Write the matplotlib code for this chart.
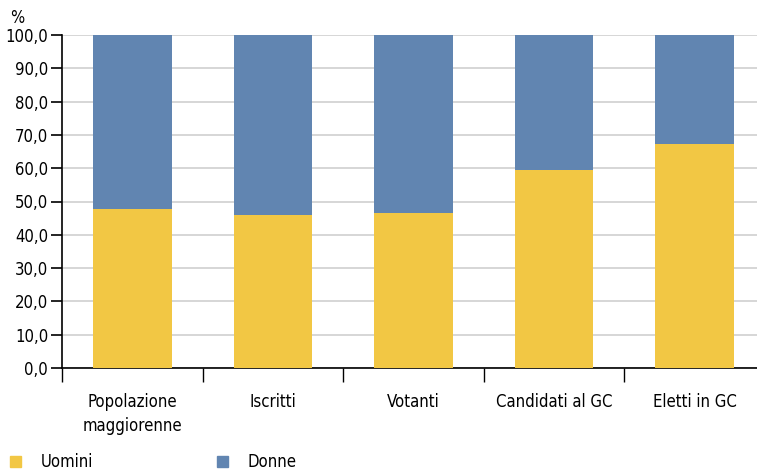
import matplotlib
matplotlib.use("Agg")
from matplotlib import pyplot as plt
from matplotlib.patches import Patch
import numpy as np

categories = ["Popolazione\nmaggiorenne", "Iscritti", "Votanti", "Candidati al GC", "Eletti in GC"]
uomini = [47.7, 45.9, 46.6, 59.5, 67.4]
donne = [100 - v for v in uomini]
yticks = np.arange(0, 101, 10)

col_u = "#F2C744"
col_d = "#6185B1"

plt.rcParams["font.family"] = ["DejaVu Sans"]
plt.rcParams["font.stretch"] = "condensed"

fig = plt.figure(figsize=(7.57, 4.70), dpi=100)
ax = fig.add_axes([62 / 757, 1 - 368 / 470, 703 / 757, 333 / 470])

x = np.arange(len(categories))
ax.bar(x, uomini, width=0.56, color=col_u, zorder=3)
ax.bar(x, donne, bottom=uomini, width=0.56, color=col_d, zorder=3)

ax.set_xlim(-0.5, len(categories) - 0.5)
ax.set_ylim(0, 100)
ax.set_yticks(yticks)
ax.set_yticklabels([f"{v:.1f}".replace(".", ",") for v in yticks], fontsize=12)
ax.yaxis.grid(True, color="#d0d0d0", lw=1.2, zorder=0)
ax.tick_params(axis="y", length=8, width=1.2, pad=2)

ax.set_xticks(x)
ax.set_xticklabels(categories, fontsize=12, linespacing=1.45)
ax.tick_params(axis="x", which="major", length=0, pad=18)
ax.set_xticks(np.arange(-0.5, len(categories), 1), minor=True)
ax.tick_params(axis="x", which="minor", length=10, width=1, direction="out")

for s in ["top", "right"]:
    ax.spines[s].set_visible(False)
ax.spines["left"].set_linewidth(1.2)
ax.spines["bottom"].set_linewidth(1.2)

fig.text(10 / 757, 1 - 18 / 470, "%", fontsize=12, ha="left", va="center")

# legenda: due voci posizionate separatamente
for lab, col, x0 in [("Uomini", col_u, 10), ("Donne", col_d, 217)]:
    leg = fig.legend(handles=[Patch(color=col, label=lab)], loc="center left",
                     bbox_to_anchor=(x0 / 757, 1 - 462 / 470), frameon=False, fontsize=12,
                     borderpad=0, borderaxespad=0, handlelength=0.66, handleheight=0.66,
                     handletextpad=1.2)

fig.savefig("out.png", dpi=100)
